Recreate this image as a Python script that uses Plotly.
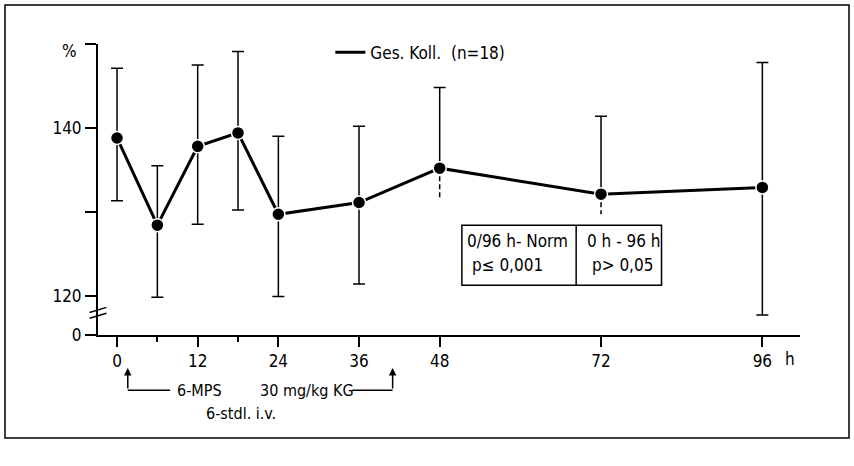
import plotly.graph_objects as go

FONT = "Liberation Sans Narrow, DejaVu Sans Condensed, Arial Narrow, sans-serif"

# Data (hours after start, % values)
hours = [0, 6, 12, 18, 24, 36, 48, 72, 96]
mean_pct = [138.8, 128.4, 137.8, 139.4, 129.7, 131.1, 135.2, 132.1, 132.9]
upper_pct = [147.1, 135.5, 147.5, 149.1, 139.0, 140.2, 144.8, 141.4, 147.8]
lower_pct = [131.3, 119.8, 128.5, 130.2, 119.9, 121.4, 131.7, 129.7, 117.7]
dashed_lower = [False, False, False, False, False, False, True, True, False]

x_tick_vals = [0, 12, 24, 36, 48, 72, 96]
x_tick_text = ["0", "12", "24", "36", "48", "72", "96"]
x_minor_vals = [6, 18]
y_zero_pos = 115.31  # position of the broken-axis "0"
y_tick_vals = [y_zero_pos, 120, 130, 140, 150]
y_tick_text = ["0", "120", "", "140", ""]

legend_name = "Ges. Koll.  (n=18)"
box_texts = [("0/96 h- Norm", "p≤ 0,001"), ("0 h - 96 h", "p> 0,05")]

X_RANGE = [-2.83, 101.6]
Y_RANGE = [y_zero_pos, 150]

err_plus = [u - m for u, m in zip(upper_pct, mean_pct)]
err_minus = [0 if d else m - l for m, l, d in zip(mean_pct, lower_pct, dashed_lower)]

fig = go.Figure()

# dashed lower error parts
dx, dy = [], []
for h, m, l, d in zip(hours, mean_pct, lower_pct, dashed_lower):
    if d:
        dx += [h, h, None]
        dy += [m, l, None]
fig.add_trace(go.Scatter(x=dx, y=dy, mode="lines", showlegend=False,
                         line=dict(color="black", width=1.5, dash="5px,3px"),
                         hoverinfo="skip"))

# connecting line (also the legend entry)
fig.add_trace(go.Scatter(
    x=hours, y=mean_pct, mode="lines", name=legend_name,
    line=dict(color="black", width=3), showlegend=True, hoverinfo="skip",
))

# markers with error bars
fig.add_trace(go.Scatter(
    x=hours, y=mean_pct, mode="markers", showlegend=False,
    marker=dict(size=13, color="black", line=dict(color="white", width=1.5)),
    error_y=dict(type="data", array=err_plus, arrayminus=err_minus,
                 symmetric=False, color="black", thickness=1.5, width=6),
))

fig.update_layout(
    width=854, height=466,
    margin=dict(l=98, r=54, t=44, b=131),
    paper_bgcolor="white", plot_bgcolor="white",
    font=dict(family=FONT, size=17, color="black"),
    legend=dict(x=0.331, y=0.97, xanchor="left", yanchor="middle",
                bgcolor="rgba(0,0,0,0)", font=dict(size=17)),
    xaxis=dict(range=X_RANGE, showgrid=False, zeroline=False,
               showline=True, linecolor="black", linewidth=2,
               ticks="outside", ticklen=10, tickwidth=1.5, tickcolor="black",
               tickmode="array", tickvals=x_tick_vals, ticktext=x_tick_text,
               minor=dict(tickmode="array", tickvals=x_minor_vals, ticks="outside",
                          ticklen=5, tickwidth=1.5, tickcolor="black"),
               tickfont=dict(size=17)),
    yaxis=dict(range=Y_RANGE, showgrid=False, zeroline=False,
               showline=True, linecolor="black", linewidth=2,
               ticks="outside", ticklen=11, tickwidth=1.5, tickcolor="black",
               tickmode="array", tickvals=y_tick_vals, ticktext=y_tick_text,
               tickfont=dict(size=17)),
)

shapes = []
annos = []

# axis break marks
for yb in [117.6, 118.3]:
    shapes.append(dict(type="line", xref="paper", yref="y", x0=-0.012, x1=0.012,
                       y0=yb - 0.3, y1=yb + 0.3, line=dict(color="black", width=1.5)))

# "%" label and "h" label
annos.append(dict(text="%", x=-0.041, y=0.976, xref="paper", yref="paper",
                  xanchor="center", yanchor="middle",
                  showarrow=False, font=dict(size=17)))
annos.append(dict(text="h", x=100.1, y=0, xref="x", yref="paper", yanchor="top",
                  yshift=-12, showarrow=False, font=dict(size=17)))

# statistics box
bx0, bxm, bx1 = 51.3, 68.3, 81.0
by0, by1 = 121.24, 128.4
shapes.append(dict(type="rect", xref="x", yref="y", x0=bx0, x1=bx1, y0=by0, y1=by1,
                   line=dict(color="black", width=1.5)))
shapes.append(dict(type="line", xref="x", yref="y", x0=bxm, x1=bxm, y0=by0, y1=by1,
                   line=dict(color="black", width=1.5)))
for (l1, l2), xl in zip(box_texts, [bx0 + 0.5, bxm + 1.3]):
    annos.append(dict(text=l1, x=xl, y=126.5, xref="x", yref="y", xanchor="left",
                      yanchor="middle", showarrow=False, font=dict(size=17)))
    annos.append(dict(text=l2, x=xl + 0.7, y=123.7, xref="x", yref="y", xanchor="left",
                      yanchor="middle", showarrow=False, font=dict(size=17)))

# treatment annotation below axis
ay_line = -0.19
ay_top = -0.113
for xa in [1.6, 41.0]:
    annos.append(dict(text="", x=xa, y=ay_top, xref="x", yref="paper",
                      showarrow=True, arrowhead=2, arrowsize=1, arrowwidth=1.5,
                      arrowcolor="black", ax=0, ay=22, axref="pixel", ayref="pixel"))
shapes.append(dict(type="line", xref="x", yref="paper", x0=1.6, x1=7.9,
                   y0=ay_line, y1=ay_line, line=dict(color="black", width=1.5)))
shapes.append(dict(type="line", xref="x", yref="paper", x0=35.0, x1=41.0,
                   y0=ay_line, y1=ay_line, line=dict(color="black", width=1.5)))
annos.append(dict(text="6-MPS", x=12.2, y=ay_line, xref="x", yref="paper",
                  xanchor="center", yanchor="middle",
                  showarrow=False, font=dict(size=16)))
annos.append(dict(text="30 mg/kg KG", x=28.3, y=ay_line, xref="x", yref="paper",
                  xanchor="center", yanchor="middle",
                  showarrow=False, font=dict(size=16)))
annos.append(dict(text="6-stdl. i.v.", x=18.4, y=-0.27, xref="x", yref="paper",
                  xanchor="center", yanchor="middle",
                  showarrow=False, font=dict(size=16)))

# outer frame
shapes.append(dict(type="rect", xref="paper", yref="paper",
                   x0=-0.1325, x1=1.0698, y0=-0.354, y1=1.134,
                   line=dict(color="black", width=1.5)))

fig.update_layout(shapes=shapes, annotations=annos)
fig.write_html("out.html", config={"displayModeBar": False},
               post_script="document.body.style.margin='0';")
